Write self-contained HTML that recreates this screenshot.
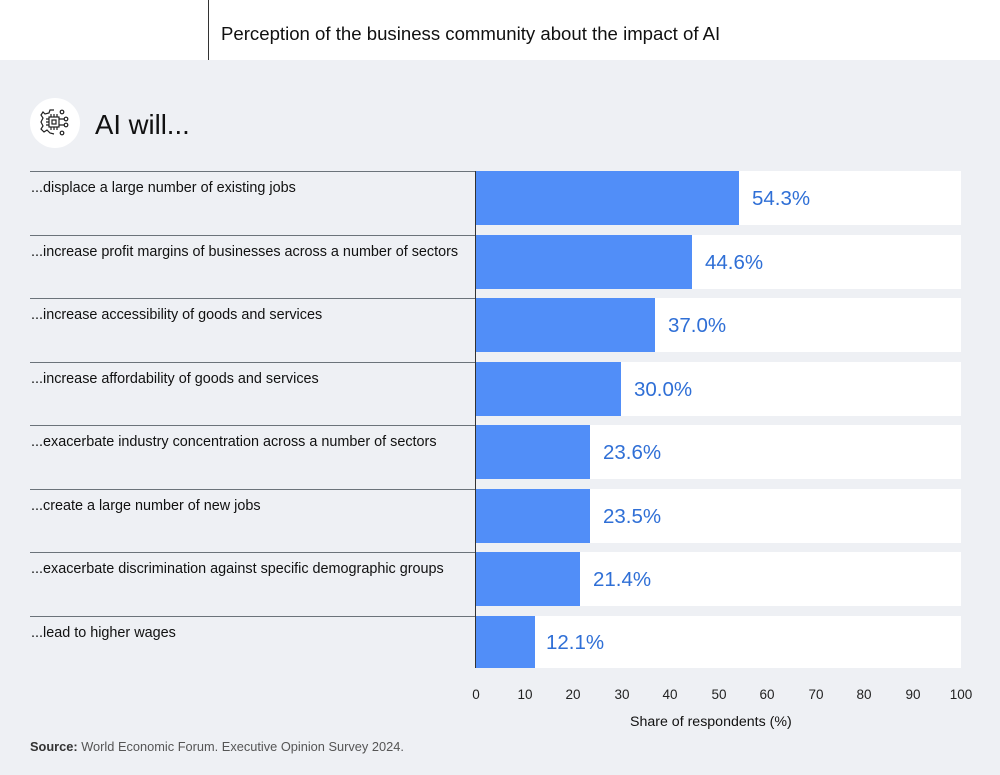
<!DOCTYPE html>
<html><head><style>
body{margin:0;width:1000px;height:775px;background:#eef0f4;font-family:"Liberation Sans",Arial,sans-serif;position:relative;overflow:hidden}
.a{position:absolute}
.hdr{left:0;top:0;width:1000px;height:60px;background:#fff}
.lbl{font-size:14.4px;color:#111;left:31px}
.ln{left:30px;width:446px;height:1px;background:#6b737a}
.band{left:476px;width:485px;height:54px;background:#fff}
.bar{left:476px;height:54px;background:#518ef8}
.val{font-size:20.5px;color:#2f6fd6}
.tk{font-size:13.5px;color:#222;top:687px;width:40px;text-align:center}
</style></head><body>
<div class="a hdr"></div>
<div class="a" style="left:208px;top:0;width:1px;height:60px;background:#333"></div>
<div class="a" style="left:221px;top:23px;font-size:18.6px;color:#111">Perception of the business community about the impact of AI</div>
<div class="a" style="left:30px;top:98px;width:50px;height:50px;border-radius:50%;background:#fff"></div>
<svg class="a" style="left:36px;top:104px" width="38" height="38" viewBox="0 0 38 38" fill="none" stroke="#222" stroke-width="1.2">
<rect x="13" y="13" width="10" height="10"/><rect x="16" y="16" width="4" height="4"/>
<path d="M15 13v-3M18 13v-3M21 13v-3M15 23v3M18 23v3M21 23v3M13 15h-3M13 18h-3M13 21h-3M23 15h5M23 21h5"/>
<circle cx="30" cy="15" r="1.8"/><circle cx="30" cy="21" r="1.8"/><circle cx="26" cy="8" r="1.8"/><circle cx="26" cy="29" r="1.8"/>
<path d="M18 6 L14 6 L13 9 L9 10 L7 8 L5 11 L7 14 L5 18 L7 22 L5 25 L8 28 L11 26 L14 29 L18 30"/>
</svg>
<div class="a" style="left:95px;top:109px;font-size:27.5px;color:#111">AI will...</div>

<div class="a ln" style="top:171px"></div><div class="a lbl" style="top:180px">...displace a large number of existing jobs</div>
<div class="a band" style="top:171px"></div><div class="a bar" style="top:171px;width:263px"></div><div class="a val" style="left:752px;top:187px">54.3%</div>

<div class="a ln" style="top:235px"></div><div class="a lbl" style="top:244px">...increase profit margins of businesses across a number of sectors</div>
<div class="a band" style="top:235px"></div><div class="a bar" style="top:235px;width:216px"></div><div class="a val" style="left:705px;top:251px">44.6%</div>

<div class="a ln" style="top:298px"></div><div class="a lbl" style="top:307px">...increase accessibility of goods and services</div>
<div class="a band" style="top:298px"></div><div class="a bar" style="top:298px;width:179px"></div><div class="a val" style="left:668px;top:314px">37.0%</div>

<div class="a ln" style="top:362px"></div><div class="a lbl" style="top:371px">...increase affordability of goods and services</div>
<div class="a band" style="top:362px"></div><div class="a bar" style="top:362px;width:145px"></div><div class="a val" style="left:634px;top:378px">30.0%</div>

<div class="a ln" style="top:425px"></div><div class="a lbl" style="top:434px">...exacerbate industry concentration across a number of sectors</div>
<div class="a band" style="top:425px"></div><div class="a bar" style="top:425px;width:114px"></div><div class="a val" style="left:603px;top:441px">23.6%</div>

<div class="a ln" style="top:489px"></div><div class="a lbl" style="top:498px">...create a large number of new jobs</div>
<div class="a band" style="top:489px"></div><div class="a bar" style="top:489px;width:114px"></div><div class="a val" style="left:603px;top:505px">23.5%</div>

<div class="a ln" style="top:552px"></div><div class="a lbl" style="top:561px">...exacerbate discrimination against specific demographic groups</div>
<div class="a band" style="top:552px"></div><div class="a bar" style="top:552px;width:104px"></div><div class="a val" style="left:593px;top:568px">21.4%</div>

<div class="a ln" style="top:616px"></div><div class="a lbl" style="top:625px">...lead to higher wages</div>
<div class="a band" style="top:616px;height:52px"></div><div class="a bar" style="top:616px;width:59px;height:52px"></div><div class="a val" style="left:546px;top:631px">12.1%</div>

<div class="a" style="left:475px;top:171px;width:1px;height:497px;background:#333"></div>

<div class="a tk" style="left:456px">0</div><div class="a tk" style="left:505px">10</div><div class="a tk" style="left:553px">20</div><div class="a tk" style="left:602px">30</div><div class="a tk" style="left:650px">40</div><div class="a tk" style="left:699px">50</div><div class="a tk" style="left:747px">60</div><div class="a tk" style="left:796px">70</div><div class="a tk" style="left:844px">80</div><div class="a tk" style="left:893px">90</div><div class="a tk" style="left:941px">100</div>
<div class="a" style="left:630px;top:714px;font-size:14.2px;color:#111">Share of respondents (%)</div>
<div class="a" style="left:30px;top:739px;font-size:12.8px;color:#555"><b style="color:#333">Source:</b> World Economic Forum. Executive Opinion Survey 2024.</div>
</body></html>
